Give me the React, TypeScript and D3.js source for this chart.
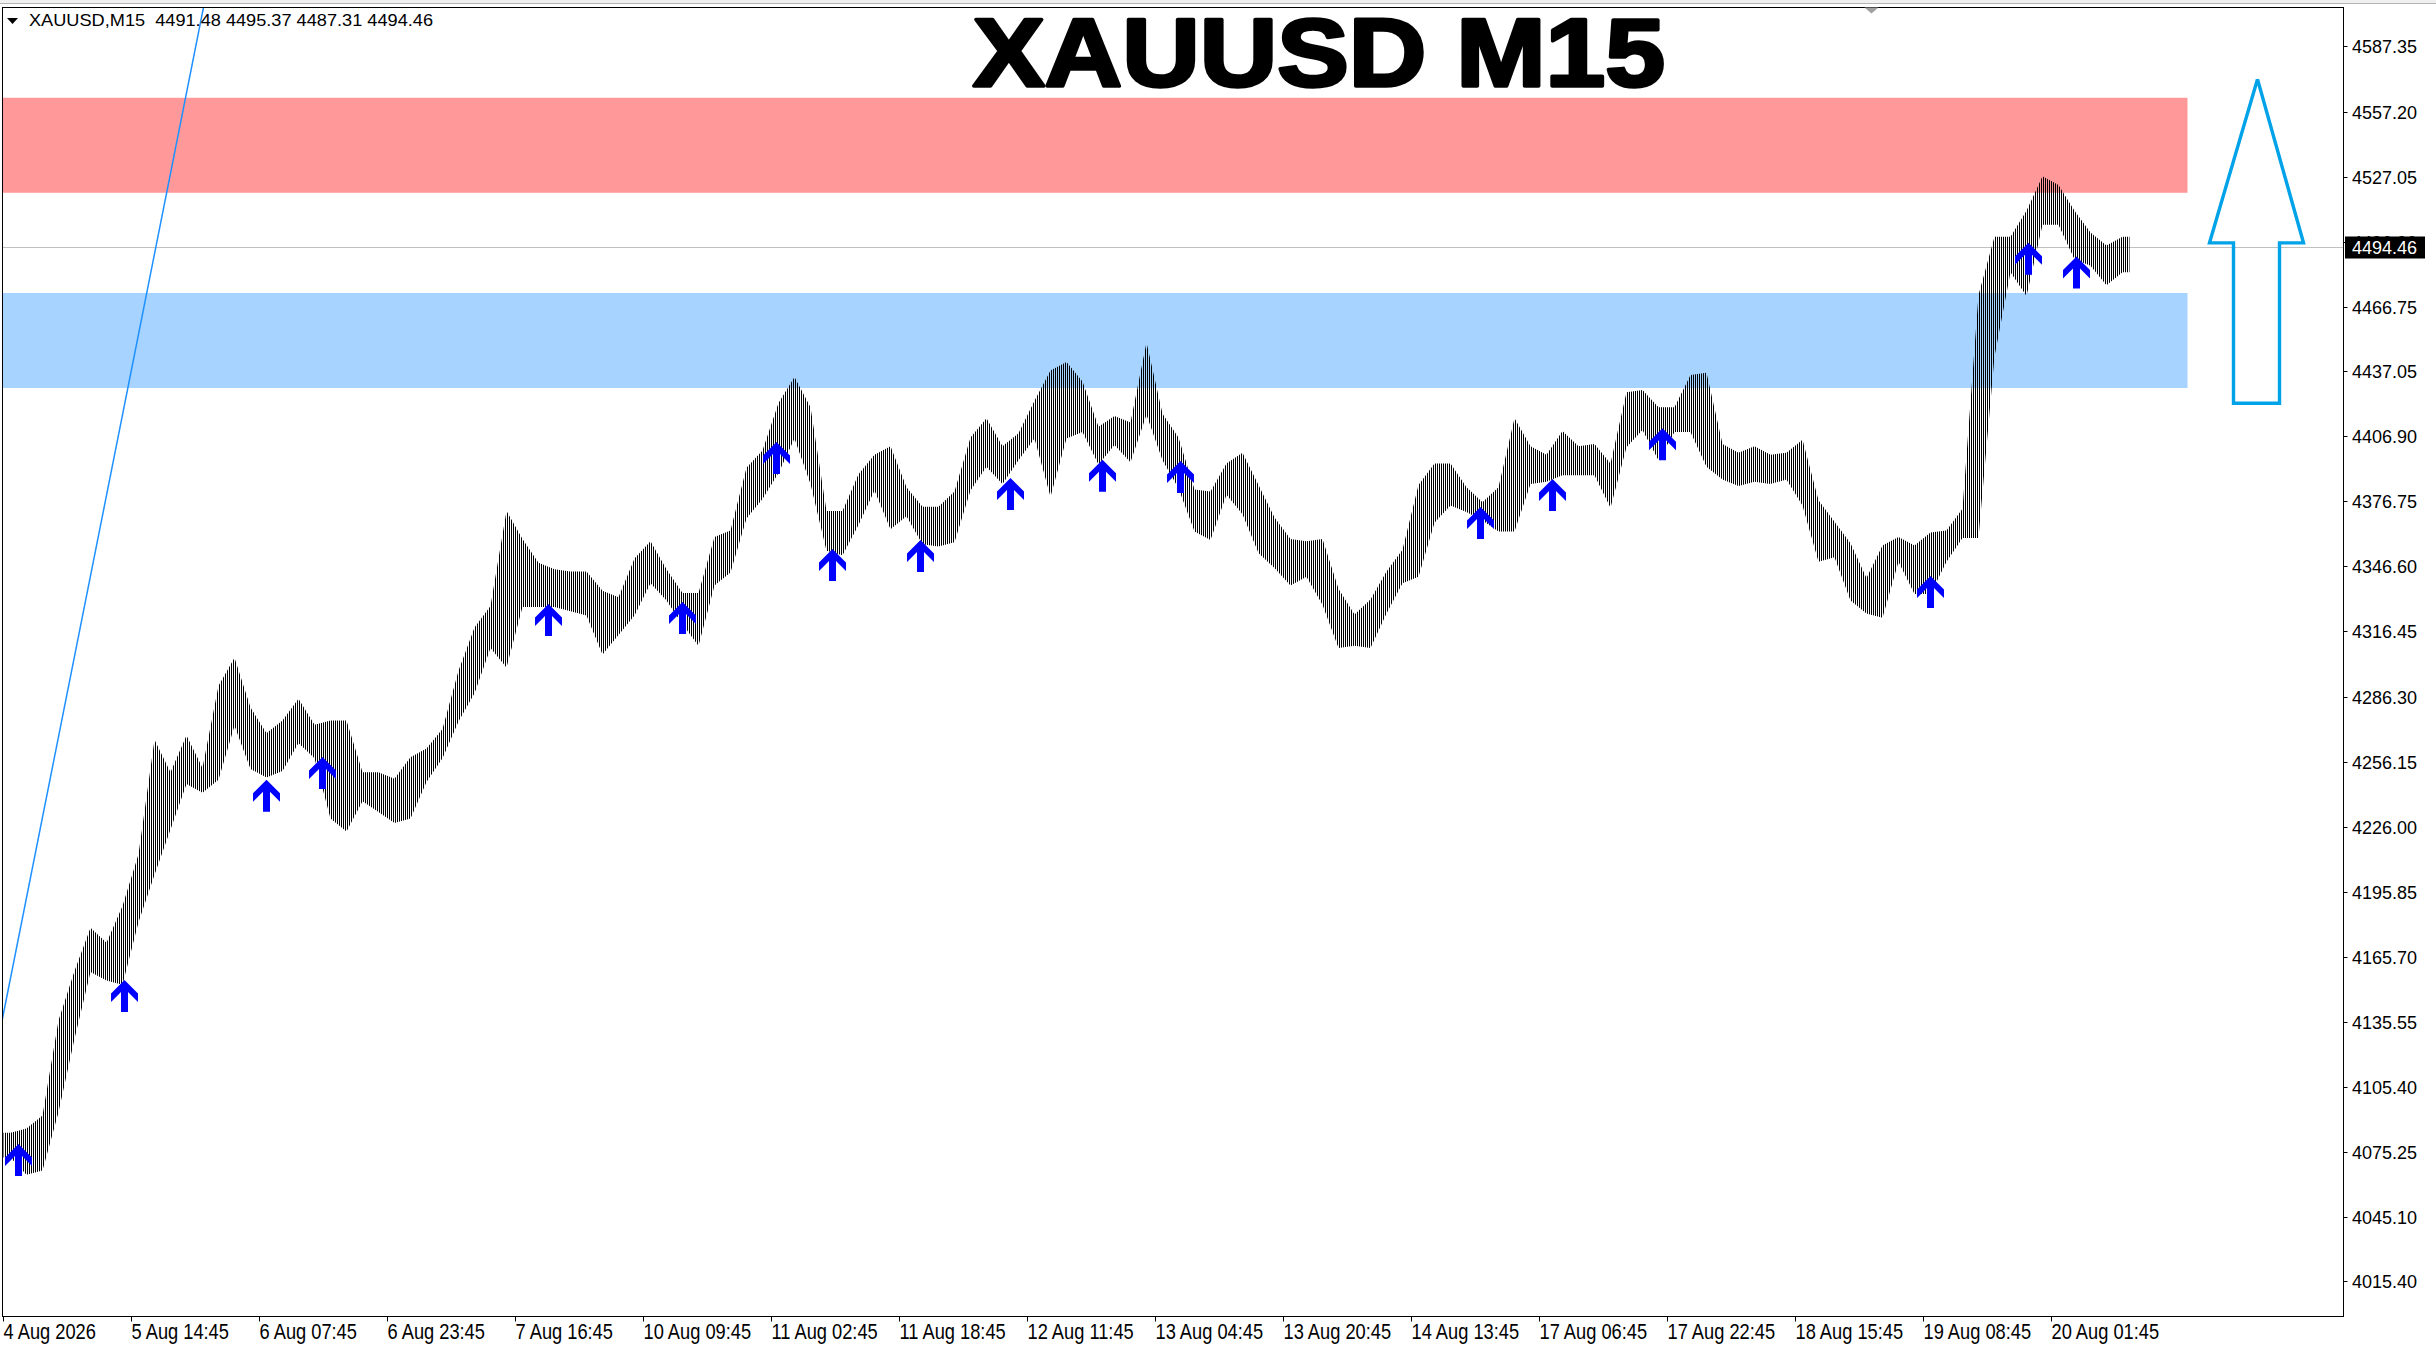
import React from 'react';
import * as d3 from 'd3';

const W = 2436;
const H = 1349;

// M15 price in 2-hour blocks (8 bars each)
const blockHigh = [
  4084, 4086, 4092, 4136, 4159, 4179, 4172, 4189, 4213, 4266, 4251, 4268, 4253, 4291, 4304, 4281,
  4269, 4275, 4285, 4273, 4275, 4275, 4251, 4251, 4248, 4258, 4262, 4271, 4298, 4318, 4328, 4372,
  4359, 4348, 4345, 4344, 4344, 4335, 4332, 4350, 4358, 4345, 4334, 4334, 4360, 4363, 4392, 4400,
  4422, 4434, 4420, 4372, 4372, 4389, 4398, 4402, 4383, 4374, 4374, 4381, 4406, 4415, 4402, 4408,
  4423, 4437, 4441, 4432, 4411, 4416, 4413, 4450, 4417, 4406, 4382, 4381, 4394, 4399, 4384, 4369,
  4359, 4358, 4359, 4336, 4324, 4331, 4344, 4354, 4384, 4394, 4394, 4383, 4376, 4383, 4415, 4402,
  4398, 4409, 4402, 4403, 4394, 4427, 4428, 4420, 4420, 4435, 4436, 4403, 4399, 4402, 4398, 4399,
  4405, 4377, 4367, 4357, 4341, 4356, 4360, 4356, 4362, 4363, 4373, 4472, 4499, 4499, 4511, 4527,
  4523, 4511, 4501, 4495, 4499,
];
const blockLow = [
  4073, 4065, 4067, 4094, 4128, 4159, 4155, 4153, 4182, 4204, 4225, 4246, 4242, 4248, 4273, 4253,
  4249, 4252, 4265, 4258, 4230, 4224, 4238, 4233, 4228, 4230, 4247, 4258, 4275, 4288, 4309, 4300,
  4328, 4328, 4328, 4326, 4324, 4306, 4315, 4324, 4339, 4331, 4320, 4310, 4338, 4344, 4369, 4378,
  4390, 4406, 4385, 4354, 4352, 4366, 4382, 4364, 4370, 4357, 4356, 4358, 4382, 4393, 4385, 4396,
  4406, 4379, 4406, 4409, 4394, 4403, 4395, 4417, 4396, 4383, 4363, 4359, 4380, 4371, 4353, 4346,
  4338, 4342, 4329, 4309, 4310, 4309, 4325, 4339, 4342, 4367, 4375, 4372, 4368, 4363, 4363, 4385,
  4386, 4389, 4389, 4389, 4374, 4402, 4410, 4396, 4409, 4409, 4393, 4387, 4384, 4386, 4385, 4387,
  4375, 4349, 4351, 4331, 4325, 4323, 4349, 4334, 4334, 4349, 4360, 4360, 4444, 4483, 4472, 4505,
  4505, 4489, 4486, 4477, 4483,
];
const barsPerBlock = 8;
const lastBar = 1063;

// buy signals (bar index, price)
const signalBars = [7, 60, 131, 159, 272, 339, 386, 414, 458, 503, 549, 588, 738, 774, 829, 963, 1012, 1036];
const signalPrices = [
  4079.1, 4155.0, 4247.7, 4258.3, 4329.2, 4330.1, 4404.2, 4354.6, 4358.8, 4387.5, 4395.9, 4395.4,
  4374.1, 4387.0, 4410.6, 4342.1, 4496.4, 4490.1,
];

const priceTicks = [
  4587.35, 4557.2, 4527.05, 4496.9, 4466.75, 4437.05, 4406.9, 4376.75, 4346.6, 4316.45, 4286.3,
  4256.15, 4226.0, 4195.85, 4165.7, 4135.55, 4105.4, 4075.25, 4045.1, 4015.4,
];
const timeLabels = [
  '4 Aug 2026', '5 Aug 14:45', '6 Aug 07:45', '6 Aug 23:45', '7 Aug 16:45', '10 Aug 09:45',
  '11 Aug 02:45', '11 Aug 18:45', '12 Aug 11:45', '13 Aug 04:45', '13 Aug 20:45', '14 Aug 13:45',
  '17 Aug 06:45', '17 Aug 22:45', '18 Aug 15:45', '19 Aug 08:45', '20 Aug 01:45',
];
const barsPerLabel = 64;

const supplyZone = [4563.6, 4519.6];
const demandZone = [4473.2, 4429.2];
const zoneEndBar = 1092;
const lastPrice = 4494.46;
const headerText = 'XAUUSD,M15  4491.48 4495.37 4487.31 4494.46';

const trendBars = [-2, 104];
const trendPrices = [4130.2, 4624.1];

// hollow up arrow: head left, shaft left, tip, shaft right, head right
const bigArrowBars = [1103, 1115, 1127, 1138, 1150];
const bigArrowPrices = [4572.2, 4496.4, 4422.1]; // tip, head base, shaft bottom

const plot = { left: 2.5, right: 2343.5, top: 7.5, bottom: 1316.5 };

const x = d3.scaleLinear().domain([0, 1]).range([3.5, 5.5]);
const y = d3.scaleLinear().domain([3999.4, 4606.1]).range([1316, 6]);

export default function App() {
  const pts = blockHigh.map((h, k) => ({ b: k * barsPerBlock + 3.5, h, l: blockLow[k] }));
  pts.unshift({ b: 0, h: blockHigh[0], l: blockLow[0] });
  pts.push({ b: lastBar, h: blockHigh[blockHigh.length - 1], l: blockLow[blockLow.length - 1] });

  const area = d3
    .area<{ b: number; h: number; l: number }>()
    .x((d) => x(d.b))
    .y0((d) => y(d.l) + 0.5)
    .y1((d) => y(d.h) - 0.5);

  const arrowPath = (bx: number, py: number) => {
    const cx = Math.round(x(bx)) + 0.5;
    const ty = y(py);
    const p = [
      [0, 0], [13.5, 13.5], [13.5, 22], [3.5, 12], [3.5, 32], [-3.5, 32], [-3.5, 12], [-13.5, 22], [-13.5, 13.5],
    ];
    return 'M' + p.map(([dx, dy]) => `${cx + dx},${ty + dy}`).join('L') + 'Z';
  };

  const [hl, sl, tip, sr, hr] = bigArrowBars.map((b) => x(b));
  const [pTip, pBase, pBottom] = bigArrowPrices.map((p) => y(p));
  const bigArrow = d3.line()([
    [tip, pTip], [hr, pBase], [sr, pBase], [sr, pBottom], [sl, pBottom], [sl, pBase], [hl, pBase], [tip, pTip],
  ]);

  const zoneStart = x(-10);
  const zoneEnd = x(zoneEndBar);
  const lastY = Math.round(y(lastPrice)) + 0.5;
  const font = "'Liberation Sans', Arial, sans-serif";

  return (
    <svg
      width={W}
      height={H}
      style={{ position: 'absolute', left: 0, top: 0, background: '#fff', display: 'block' }}
    >
      <defs>
        <pattern id="bars" patternUnits="userSpaceOnUse" width="2" height="4">
          <rect x="1" y="0" width="1" height="4" fill="#000" />
        </pattern>
        <clipPath id="plotClip">
          <rect x={plot.left + 0.5} y={plot.top + 0.5} width={plot.right - plot.left - 1} height={plot.bottom - plot.top - 1} />
        </clipPath>
      </defs>

      {/* window strip */}
      <rect x={0} y={0} width={W} height={4} fill="#f0f0f0" />
      <line x1={0} x2={W} y1={3.5} y2={3.5} stroke="#b4b4b4" />

      <g clipPath="url(#plotClip)">
        <rect x={zoneStart} y={y(supplyZone[0])} width={zoneEnd - zoneStart} height={y(supplyZone[1]) - y(supplyZone[0])} fill="#ff9999" />
        <rect x={zoneStart} y={y(demandZone[0])} width={zoneEnd - zoneStart} height={y(demandZone[1]) - y(demandZone[0])} fill="#a6d3ff" />
        <line x1={plot.left} x2={plot.right} y1={lastY} y2={lastY} stroke="#c0c0c0" strokeWidth={1} />
        <path d={area(pts) || ''} fill="url(#bars)" />
        <line
          x1={x(trendBars[0])}
          y1={y(trendPrices[0])}
          x2={x(trendBars[1])}
          y2={y(trendPrices[1])}
          stroke="#1e90ff"
          strokeWidth={1.5}
        />
        {signalBars.map((b, i) => (
          <path key={i} d={arrowPath(b, signalPrices[i])} fill="#0000ff" />
        ))}
        <path d={bigArrow || ''} fill="none" stroke="#00a2e8" strokeWidth={3.4} strokeLinejoin="miter" />
      </g>

      {/* frame */}
      <rect x={plot.left} y={plot.top} width={plot.right - plot.left} height={plot.bottom - plot.top} fill="none" stroke="#000" strokeWidth={1} />

      {/* shift marker */}
      <path d={`M${x(934) - 7},${plot.top}L${x(934) + 7},${plot.top}L${x(934)},${plot.top + 6}Z`} fill="#a0a0a0" />

      {/* header */}
      <path d="M7,18L18,18L12.5,24Z" fill="#000" />
      <text
        x={29}
        y={26}
        fontFamily={font}
        fontSize={17}
        fill="#000"
        textLength={404}
        lengthAdjust="spacingAndGlyphs"
        style={{ whiteSpace: 'pre' }}
      >
        {headerText}
      </text>

      {/* title */}
      <text
        x={1319}
        y={86}
        textAnchor="middle"
        fontFamily={font}
        fontWeight="bold"
        fontSize={96}
        fill="#000"
        stroke="#000"
        strokeWidth={3.5}
        strokeLinejoin="round"
        textLength={692}
        lengthAdjust="spacingAndGlyphs"
      >
        XAUUSD M15
      </text>

      {/* price axis */}
      {priceTicks.map((p) => {
        const ty = Math.round(y(p)) + 0.5;
        return (
          <g key={p}>
            <line x1={plot.right} x2={plot.right + 4} y1={ty} y2={ty} stroke="#000" />
            <text x={2352} y={ty + 6.5} fontFamily={font} fontSize={18} fill="#000">
              {p.toFixed(2)}
            </text>
          </g>
        );
      })}
      <rect x={2345} y={lastY - 11} width={80} height={22} fill="#000" />
      <text x={2352} y={lastY + 6.5} fontFamily={font} fontSize={18} fill="#fff">
        {lastPrice.toFixed(2)}
      </text>

      {/* time axis */}
      {timeLabels.map((t, k) => {
        const tx = Math.round(x(k * barsPerLabel)) - 0.5;
        return (
          <g key={t}>
            <line x1={tx} x2={tx} y1={plot.bottom} y2={plot.bottom + 5} stroke="#000" />
            <text
              transform={`translate(${tx},1339) scale(0.83,1)`}
              fontFamily={font}
              fontSize={22}
              fill="#000"
            >
              {t}
            </text>
          </g>
        );
      })}
    </svg>
  );
}
